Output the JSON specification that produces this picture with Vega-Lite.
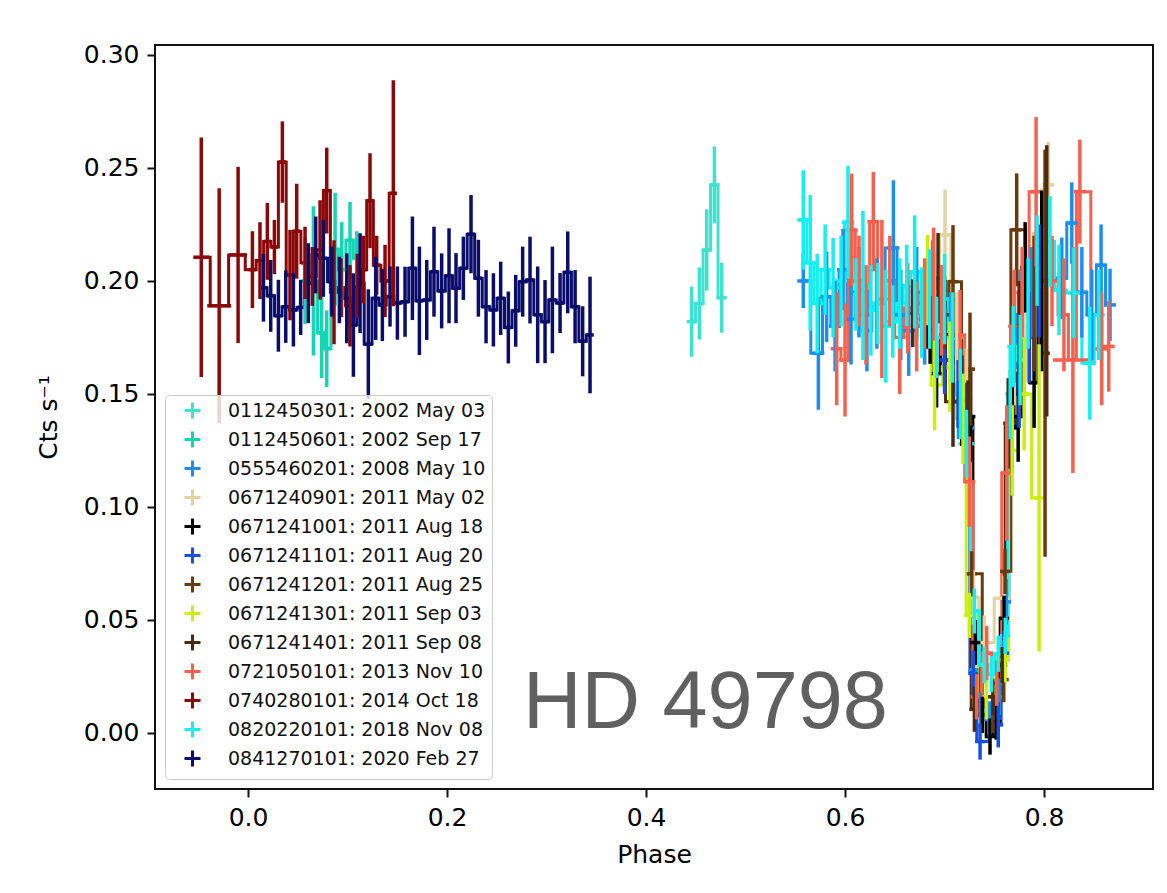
{
  "$schema": "https://vega.github.io/schema/vega-lite/v6.json",
  "width": 998,
  "height": 744,
  "autosize": {"type": "none"},
  "padding": {"left": 155, "top": 45, "right": 14, "bottom": 104},
  "background": "white",
  "config": {
    "view": {"stroke": "#111111", "strokeWidth": 2},
    "axis": {"grid": false, "domain": false, "labelFont": "DejaVu Sans", "titleFont": "DejaVu Sans", "labelFontSize": 25, "titleFontSize": 25, "titleFontWeight": "normal", "labelColor": "#000000", "titleColor": "#000000", "tickColor": "#111111", "tickWidth": 2, "tickSize": 8}
  },
  "data": {"values": [
    {"s": "0112450301: 2002 May 03", "p": 0.4459, "pe": 0.005, "r": 0.182, "re": 0.0155},
    {"s": "0112450301: 2002 May 03", "p": 0.4536, "pe": 0.005, "r": 0.190, "re": 0.016},
    {"s": "0112450301: 2002 May 03", "p": 0.4610, "pe": 0.005, "r": 0.2137, "re": 0.018},
    {"s": "0112450301: 2002 May 03", "p": 0.4687, "pe": 0.005, "r": 0.2425, "re": 0.017},
    {"s": "0112450301: 2002 May 03", "p": 0.4760, "pe": 0.005, "r": 0.1926, "re": 0.0155},
    {"s": "0112450601: 2002 Sep 17", "p": 0.0573, "pe": 0.004, "r": 0.200, "re": 0.019},
    {"s": "0112450601: 2002 Sep 17", "p": 0.0657, "pe": 0.004, "r": 0.200, "re": 0.033},
    {"s": "0112450601: 2002 Sep 17", "p": 0.0740, "pe": 0.004, "r": 0.177, "re": 0.020},
    {"s": "0112450601: 2002 Sep 17", "p": 0.0791, "pe": 0.004, "r": 0.170, "re": 0.017},
    {"s": "0112450601: 2002 Sep 17", "p": 0.0875, "pe": 0.004, "r": 0.214, "re": 0.025},
    {"s": "0112450601: 2002 Sep 17", "p": 0.0942, "pe": 0.004, "r": 0.205, "re": 0.021},
    {"s": "0112450601: 2002 Sep 17", "p": 0.1025, "pe": 0.004, "r": 0.218, "re": 0.017},
    {"s": "0112450601: 2002 Sep 17", "p": 0.1092, "pe": 0.004, "r": 0.210, "re": 0.012},
    {"s": "0555460201: 2008 May 10", "p": 0.558, "pe": 0.006, "r": 0.200, "re": 0.012},
    {"s": "0555460201: 2008 May 10", "p": 0.5732, "pe": 0.006, "r": 0.168, "re": 0.025},
    {"s": "0555460201: 2008 May 10", "p": 0.5815, "pe": 0.006, "r": 0.193, "re": 0.020},
    {"s": "0555460201: 2008 May 10", "p": 0.590, "pe": 0.006, "r": 0.180, "re": 0.020},
    {"s": "0555460201: 2008 May 10", "p": 0.598, "pe": 0.006, "r": 0.205, "re": 0.018},
    {"s": "0555460201: 2008 May 10", "p": 0.606, "pe": 0.006, "r": 0.183, "re": 0.020},
    {"s": "0555460201: 2008 May 10", "p": 0.614, "pe": 0.006, "r": 0.195, "re": 0.020},
    {"s": "0555460201: 2008 May 10", "p": 0.622, "pe": 0.006, "r": 0.178, "re": 0.018},
    {"s": "0555460201: 2008 May 10", "p": 0.632, "pe": 0.006, "r": 0.190, "re": 0.020},
    {"s": "0555460201: 2008 May 10", "p": 0.6486, "pe": 0.006, "r": 0.2146, "re": 0.030},
    {"s": "0555460201: 2008 May 10", "p": 0.656, "pe": 0.006, "r": 0.185, "re": 0.020},
    {"s": "0555460201: 2008 May 10", "p": 0.664, "pe": 0.006, "r": 0.178, "re": 0.020},
    {"s": "0555460201: 2008 May 10", "p": 0.672, "pe": 0.006, "r": 0.195, "re": 0.020},
    {"s": "0555460201: 2008 May 10", "p": 0.680, "pe": 0.006, "r": 0.183, "re": 0.020},
    {"s": "0555460201: 2008 May 10", "p": 0.688, "pe": 0.006, "r": 0.200, "re": 0.018},
    {"s": "0555460201: 2008 May 10", "p": 0.697, "pe": 0.006, "r": 0.187, "re": 0.020},
    {"s": "0555460201: 2008 May 10", "p": 0.706, "pe": 0.006, "r": 0.175, "re": 0.020},
    {"s": "0555460201: 2008 May 10", "p": 0.714, "pe": 0.006, "r": 0.150, "re": 0.020},
    {"s": "0555460201: 2008 May 10", "p": 0.724, "pe": 0.006, "r": 0.135, "re": 0.015},
    {"s": "0555460201: 2008 May 10", "p": 0.729, "pe": 0.005, "r": 0.028, "re": 0.008},
    {"s": "0555460201: 2008 May 10", "p": 0.736, "pe": 0.005, "r": 0.010, "re": 0.008},
    {"s": "0555460201: 2008 May 10", "p": 0.745, "pe": 0.005, "r": 0.006, "re": 0.008},
    {"s": "0555460201: 2008 May 10", "p": 0.755, "pe": 0.005, "r": 0.016, "re": 0.008},
    {"s": "0555460201: 2008 May 10", "p": 0.762, "pe": 0.005, "r": 0.058, "re": 0.010},
    {"s": "0555460201: 2008 May 10", "p": 0.768, "pe": 0.006, "r": 0.150, "re": 0.020},
    {"s": "0555460201: 2008 May 10", "p": 0.776, "pe": 0.006, "r": 0.185, "re": 0.020},
    {"s": "0555460201: 2008 May 10", "p": 0.787, "pe": 0.006, "r": 0.195, "re": 0.020},
    {"s": "0555460201: 2008 May 10", "p": 0.797, "pe": 0.006, "r": 0.200, "re": 0.020},
    {"s": "0555460201: 2008 May 10", "p": 0.8178, "pe": 0.006, "r": 0.2012, "re": 0.018},
    {"s": "0555460201: 2008 May 10", "p": 0.8279, "pe": 0.006, "r": 0.2256, "re": 0.018},
    {"s": "0555460201: 2008 May 10", "p": 0.838, "pe": 0.006, "r": 0.195, "re": 0.020},
    {"s": "0555460201: 2008 May 10", "p": 0.848, "pe": 0.006, "r": 0.185, "re": 0.020},
    {"s": "0555460201: 2008 May 10", "p": 0.8573, "pe": 0.006, "r": 0.207, "re": 0.018},
    {"s": "0555460201: 2008 May 10", "p": 0.8663, "pe": 0.006, "r": 0.1894, "re": 0.016},
    {"s": "0671240901: 2011 May 02", "p": 0.690, "pe": 0.006, "r": 0.195, "re": 0.018},
    {"s": "0671240901: 2011 May 02", "p": 0.7005, "pe": 0.006, "r": 0.2204, "re": 0.020},
    {"s": "0671240901: 2011 May 02", "p": 0.712, "pe": 0.006, "r": 0.175, "re": 0.020},
    {"s": "0671240901: 2011 May 02", "p": 0.722, "pe": 0.006, "r": 0.150, "re": 0.020},
    {"s": "0671240901: 2011 May 02", "p": 0.729, "pe": 0.005, "r": 0.060, "re": 0.012},
    {"s": "0671240901: 2011 May 02", "p": 0.740, "pe": 0.006, "r": 0.040, "re": 0.012},
    {"s": "0671240901: 2011 May 02", "p": 0.7598, "pe": 0.006, "r": 0.0596, "re": 0.010},
    {"s": "0671240901: 2011 May 02", "p": 0.770, "pe": 0.006, "r": 0.160, "re": 0.015},
    {"s": "0671240901: 2011 May 02", "p": 0.781, "pe": 0.006, "r": 0.175, "re": 0.020},
    {"s": "0671240901: 2011 May 02", "p": 0.7977, "pe": 0.006, "r": 0.221, "re": 0.020},
    {"s": "0671240901: 2011 May 02", "p": 0.8043, "pe": 0.006, "r": 0.2425, "re": 0.019},
    {"s": "0671241001: 2011 Aug 18", "p": 0.683, "pe": 0.005, "r": 0.185, "re": 0.015},
    {"s": "0671241001: 2011 Aug 18", "p": 0.6855, "pe": 0.005, "r": 0.1783, "re": 0.015},
    {"s": "0671241001: 2011 Aug 18", "p": 0.692, "pe": 0.005, "r": 0.159, "re": 0.015},
    {"s": "0671241001: 2011 Aug 18", "p": 0.700, "pe": 0.005, "r": 0.1762, "re": 0.015},
    {"s": "0671241001: 2011 Aug 18", "p": 0.7173, "pe": 0.005, "r": 0.147, "re": 0.020},
    {"s": "0671241001: 2011 Aug 18", "p": 0.726, "pe": 0.005, "r": 0.140, "re": 0.020},
    {"s": "0671241001: 2011 Aug 18", "p": 0.731, "pe": 0.005, "r": 0.040, "re": 0.010},
    {"s": "0671241001: 2011 Aug 18", "p": 0.738, "pe": 0.005, "r": 0.008, "re": 0.008},
    {"s": "0671241001: 2011 Aug 18", "p": 0.7457, "pe": 0.005, "r": -0.0016, "re": 0.008},
    {"s": "0671241001: 2011 Aug 18", "p": 0.752, "pe": 0.005, "r": 0.005, "re": 0.008},
    {"s": "0671241001: 2011 Aug 18", "p": 0.7598, "pe": 0.005, "r": 0.0507, "re": 0.010},
    {"s": "0671241001: 2011 Aug 18", "p": 0.768, "pe": 0.005, "r": 0.135, "re": 0.020},
    {"s": "0671241001: 2011 Aug 18", "p": 0.774, "pe": 0.005, "r": 0.140, "re": 0.020},
    {"s": "0671241001: 2011 Aug 18", "p": 0.781, "pe": 0.005, "r": 0.206, "re": 0.020},
    {"s": "0671241001: 2011 Aug 18", "p": 0.790, "pe": 0.005, "r": 0.155, "re": 0.020},
    {"s": "0671241001: 2011 Aug 18", "p": 0.7977, "pe": 0.005, "r": 0.200, "re": 0.040},
    {"s": "0671241101: 2011 Aug 20", "p": 0.700, "pe": 0.005, "r": 0.165, "re": 0.015},
    {"s": "0671241101: 2011 Aug 20", "p": 0.7136, "pe": 0.005, "r": 0.150, "re": 0.015},
    {"s": "0671241101: 2011 Aug 20", "p": 0.722, "pe": 0.005, "r": 0.140, "re": 0.015},
    {"s": "0671241101: 2011 Aug 20", "p": 0.729, "pe": 0.005, "r": 0.0264, "re": 0.010},
    {"s": "0671241101: 2011 Aug 20", "p": 0.7357, "pe": 0.005, "r": -0.0038, "re": 0.008},
    {"s": "0671241101: 2011 Aug 20", "p": 0.754, "pe": 0.005, "r": 0.0036, "re": 0.010},
    {"s": "0671241101: 2011 Aug 20", "p": 0.7598, "pe": 0.005, "r": 0.0353, "re": 0.010},
    {"s": "0671241101: 2011 Aug 20", "p": 0.765, "pe": 0.005, "r": 0.137, "re": 0.015},
    {"s": "0671241101: 2011 Aug 20", "p": 0.775, "pe": 0.005, "r": 0.150, "re": 0.015},
    {"s": "0671241101: 2011 Aug 20", "p": 0.785, "pe": 0.005, "r": 0.175, "re": 0.020},
    {"s": "0671241101: 2011 Aug 20", "p": 0.795, "pe": 0.005, "r": 0.200, "re": 0.025},
    {"s": "0671241201: 2011 Aug 25", "p": 0.700, "pe": 0.005, "r": 0.185, "re": 0.015},
    {"s": "0671241201: 2011 Aug 25", "p": 0.7085, "pe": 0.005, "r": 0.1997, "re": 0.025},
    {"s": "0671241201: 2011 Aug 25", "p": 0.7256, "pe": 0.005, "r": 0.161, "re": 0.025},
    {"s": "0671241201: 2011 Aug 25", "p": 0.7273, "pe": 0.005, "r": 0.0704, "re": 0.010},
    {"s": "0671241201: 2011 Aug 25", "p": 0.7485, "pe": 0.005, "r": 0.008, "re": 0.008},
    {"s": "0671241201: 2011 Aug 25", "p": 0.7595, "pe": 0.005, "r": 0.0236, "re": 0.010},
    {"s": "0671241201: 2011 Aug 25", "p": 0.7608, "pe": 0.005, "r": 0.0715, "re": 0.010},
    {"s": "0671241201: 2011 Aug 25", "p": 0.7725, "pe": 0.005, "r": 0.2226, "re": 0.025},
    {"s": "0671241201: 2011 Aug 25", "p": 0.790, "pe": 0.005, "r": 0.190, "re": 0.030},
    {"s": "0671241201: 2011 Aug 25", "p": 0.801, "pe": 0.005, "r": 0.168, "re": 0.090},
    {"s": "0671241301: 2011 Sep 03", "p": 0.683, "pe": 0.005, "r": 0.2004, "re": 0.020},
    {"s": "0671241301: 2011 Sep 03", "p": 0.690, "pe": 0.005, "r": 0.154, "re": 0.020},
    {"s": "0671241301: 2011 Sep 03", "p": 0.7055, "pe": 0.005, "r": 0.162, "re": 0.020},
    {"s": "0671241301: 2011 Sep 03", "p": 0.7186, "pe": 0.005, "r": 0.139, "re": 0.020},
    {"s": "0671241301: 2011 Sep 03", "p": 0.7249, "pe": 0.005, "r": 0.052, "re": 0.010},
    {"s": "0671241301: 2011 Sep 03", "p": 0.742, "pe": 0.005, "r": 0.016, "re": 0.010},
    {"s": "0671241301: 2011 Sep 03", "p": 0.7608, "pe": 0.005, "r": 0.0324, "re": 0.010},
    {"s": "0671241301: 2011 Sep 03", "p": 0.768, "pe": 0.005, "r": 0.125, "re": 0.020},
    {"s": "0671241301: 2011 Sep 03", "p": 0.780, "pe": 0.005, "r": 0.150, "re": 0.025},
    {"s": "0671241301: 2011 Sep 03", "p": 0.795, "pe": 0.005, "r": 0.104, "re": 0.068},
    {"s": "0671241401: 2011 Sep 08", "p": 0.668, "pe": 0.005, "r": 0.1857, "re": 0.015},
    {"s": "0671241401: 2011 Sep 08", "p": 0.6935, "pe": 0.005, "r": 0.2012, "re": 0.020},
    {"s": "0671241401: 2011 Sep 08", "p": 0.7085, "pe": 0.005, "r": 0.1466, "re": 0.020},
    {"s": "0671241401: 2011 Sep 08", "p": 0.7236, "pe": 0.005, "r": 0.136, "re": 0.020},
    {"s": "0671241401: 2011 Sep 08", "p": 0.730, "pe": 0.005, "r": 0.0105, "re": 0.010},
    {"s": "0671241401: 2011 Sep 08", "p": 0.7485, "pe": 0.005, "r": 0.016, "re": 0.008},
    {"s": "0671241401: 2011 Sep 08", "p": 0.758, "pe": 0.005, "r": 0.030, "re": 0.008},
    {"s": "0671241401: 2011 Sep 08", "p": 0.764, "pe": 0.005, "r": 0.137, "re": 0.020},
    {"s": "0671241401: 2011 Sep 08", "p": 0.775, "pe": 0.005, "r": 0.180, "re": 0.020},
    {"s": "0671241401: 2011 Sep 08", "p": 0.8027, "pe": 0.005, "r": 0.200, "re": 0.060},
    {"s": "0721050101: 2013 Nov 10", "p": 0.5916, "pe": 0.006, "r": 0.170, "re": 0.025},
    {"s": "0721050101: 2013 Nov 10", "p": 0.600, "pe": 0.006, "r": 0.165, "re": 0.025},
    {"s": "0721050101: 2013 Nov 10", "p": 0.6067, "pe": 0.006, "r": 0.2225, "re": 0.025},
    {"s": "0721050101: 2013 Nov 10", "p": 0.614, "pe": 0.006, "r": 0.200, "re": 0.020},
    {"s": "0721050101: 2013 Nov 10", "p": 0.621, "pe": 0.006, "r": 0.185, "re": 0.022},
    {"s": "0721050101: 2013 Nov 10", "p": 0.6284, "pe": 0.006, "r": 0.2262, "re": 0.022},
    {"s": "0721050101: 2013 Nov 10", "p": 0.637, "pe": 0.006, "r": 0.192, "re": 0.035},
    {"s": "0721050101: 2013 Nov 10", "p": 0.645, "pe": 0.006, "r": 0.200, "re": 0.020},
    {"s": "0721050101: 2013 Nov 10", "p": 0.655, "pe": 0.006, "r": 0.175, "re": 0.025},
    {"s": "0721050101: 2013 Nov 10", "p": 0.663, "pe": 0.006, "r": 0.188, "re": 0.020},
    {"s": "0721050101: 2013 Nov 10", "p": 0.672, "pe": 0.006, "r": 0.180, "re": 0.020},
    {"s": "0721050101: 2013 Nov 10", "p": 0.680, "pe": 0.006, "r": 0.190, "re": 0.020},
    {"s": "0721050101: 2013 Nov 10", "p": 0.689, "pe": 0.006, "r": 0.1986, "re": 0.025},
    {"s": "0721050101: 2013 Nov 10", "p": 0.697, "pe": 0.006, "r": 0.187, "re": 0.020},
    {"s": "0721050101: 2013 Nov 10", "p": 0.7156, "pe": 0.006, "r": 0.176, "re": 0.020},
    {"s": "0721050101: 2013 Nov 10", "p": 0.7249, "pe": 0.006, "r": 0.1112, "re": 0.020},
    {"s": "0721050101: 2013 Nov 10", "p": 0.7323, "pe": 0.006, "r": 0.016, "re": 0.010},
    {"s": "0721050101: 2013 Nov 10", "p": 0.7424, "pe": 0.006, "r": 0.0353, "re": 0.012},
    {"s": "0721050101: 2013 Nov 10", "p": 0.7525, "pe": 0.005, "r": 0.022, "re": 0.010},
    {"s": "0721050101: 2013 Nov 10", "p": 0.7625, "pe": 0.006, "r": 0.115, "re": 0.030},
    {"s": "0721050101: 2013 Nov 10", "p": 0.770, "pe": 0.006, "r": 0.180, "re": 0.025},
    {"s": "0721050101: 2013 Nov 10", "p": 0.778, "pe": 0.006, "r": 0.195, "re": 0.020},
    {"s": "0721050101: 2013 Nov 10", "p": 0.792, "pe": 0.006, "r": 0.2395, "re": 0.033},
    {"s": "0721050101: 2013 Nov 10", "p": 0.808, "pe": 0.006, "r": 0.200, "re": 0.020},
    {"s": "0721050101: 2013 Nov 10", "p": 0.820, "pe": 0.006, "r": 0.185, "re": 0.025},
    {"s": "0721050101: 2013 Nov 10", "p": 0.829, "pe": 0.020, "r": 0.165, "re": 0.050},
    {"s": "0721050101: 2013 Nov 10", "p": 0.836, "pe": 0.006, "r": 0.2395, "re": 0.023},
    {"s": "0721050101: 2013 Nov 10", "p": 0.858, "pe": 0.006, "r": 0.170, "re": 0.025},
    {"s": "0721050101: 2013 Nov 10", "p": 0.865, "pe": 0.006, "r": 0.171, "re": 0.020},
    {"s": "0740280101: 2014 Oct 18", "p": -0.047, "pe": 0.008, "r": 0.2105, "re": 0.053},
    {"s": "0740280101: 2014 Oct 18", "p": -0.029, "pe": 0.012, "r": 0.189, "re": 0.052},
    {"s": "0740280101: 2014 Oct 18", "p": -0.010, "pe": 0.009, "r": 0.2115, "re": 0.039},
    {"s": "0740280101: 2014 Oct 18", "p": 0.0044, "pe": 0.0037, "r": 0.205, "re": 0.017},
    {"s": "0740280101: 2014 Oct 18", "p": 0.012, "pe": 0.0037, "r": 0.209, "re": 0.017},
    {"s": "0740280101: 2014 Oct 18", "p": 0.0194, "pe": 0.0037, "r": 0.2175, "re": 0.017},
    {"s": "0740280101: 2014 Oct 18", "p": 0.0265, "pe": 0.0037, "r": 0.215, "re": 0.012},
    {"s": "0740280101: 2014 Oct 18", "p": 0.0345, "pe": 0.0037, "r": 0.2526, "re": 0.018},
    {"s": "0740280101: 2014 Oct 18", "p": 0.0422, "pe": 0.0037, "r": 0.2026, "re": 0.020},
    {"s": "0740280101: 2014 Oct 18", "p": 0.0489, "pe": 0.0037, "r": 0.222, "re": 0.021},
    {"s": "0740280101: 2014 Oct 18", "p": 0.0573, "pe": 0.0037, "r": 0.208, "re": 0.016},
    {"s": "0740280101: 2014 Oct 18", "p": 0.0646, "pe": 0.0037, "r": 0.202, "re": 0.013},
    {"s": "0740280101: 2014 Oct 18", "p": 0.0724, "pe": 0.0037, "r": 0.2137, "re": 0.022},
    {"s": "0740280101: 2014 Oct 18", "p": 0.0791, "pe": 0.0037, "r": 0.240, "re": 0.019},
    {"s": "0740280101: 2014 Oct 18", "p": 0.0864, "pe": 0.0037, "r": 0.195, "re": 0.023},
    {"s": "0740280101: 2014 Oct 18", "p": 0.0935, "pe": 0.0037, "r": 0.197, "re": 0.013},
    {"s": "0740280101: 2014 Oct 18", "p": 0.1025, "pe": 0.0037, "r": 0.189, "re": 0.018},
    {"s": "0740280101: 2014 Oct 18", "p": 0.1099, "pe": 0.0037, "r": 0.198, "re": 0.014},
    {"s": "0740280101: 2014 Oct 18", "p": 0.1159, "pe": 0.0037, "r": 0.205, "re": 0.015},
    {"s": "0740280101: 2014 Oct 18", "p": 0.1226, "pe": 0.0037, "r": 0.2355, "re": 0.021},
    {"s": "0740280101: 2014 Oct 18", "p": 0.1293, "pe": 0.0037, "r": 0.207, "re": 0.013},
    {"s": "0740280101: 2014 Oct 18", "p": 0.1377, "pe": 0.0037, "r": 0.200, "re": 0.016},
    {"s": "0740280101: 2014 Oct 18", "p": 0.146, "pe": 0.0037, "r": 0.2388, "re": 0.050},
    {"s": "0820220101: 2018 Nov 08", "p": 0.558, "pe": 0.006, "r": 0.227, "re": 0.022},
    {"s": "0820220101: 2018 Nov 08", "p": 0.565, "pe": 0.006, "r": 0.208, "re": 0.030},
    {"s": "0820220101: 2018 Nov 08", "p": 0.572, "pe": 0.006, "r": 0.190, "re": 0.022},
    {"s": "0820220101: 2018 Nov 08", "p": 0.580, "pe": 0.006, "r": 0.205, "re": 0.020},
    {"s": "0820220101: 2018 Nov 08", "p": 0.588, "pe": 0.006, "r": 0.197, "re": 0.022},
    {"s": "0820220101: 2018 Nov 08", "p": 0.596, "pe": 0.006, "r": 0.200, "re": 0.020},
    {"s": "0820220101: 2018 Nov 08", "p": 0.603, "pe": 0.006, "r": 0.226, "re": 0.025},
    {"s": "0820220101: 2018 Nov 08", "p": 0.611, "pe": 0.006, "r": 0.194, "re": 0.016},
    {"s": "0820220101: 2018 Nov 08", "p": 0.618, "pe": 0.006, "r": 0.198, "re": 0.033},
    {"s": "0820220101: 2018 Nov 08", "p": 0.626, "pe": 0.006, "r": 0.187, "re": 0.020},
    {"s": "0820220101: 2018 Nov 08", "p": 0.633, "pe": 0.006, "r": 0.190, "re": 0.018},
    {"s": "0820220101: 2018 Nov 08", "p": 0.641, "pe": 0.006, "r": 0.180, "re": 0.025},
    {"s": "0820220101: 2018 Nov 08", "p": 0.648, "pe": 0.006, "r": 0.182, "re": 0.016},
    {"s": "0820220101: 2018 Nov 08", "p": 0.655, "pe": 0.006, "r": 0.190, "re": 0.020},
    {"s": "0820220101: 2018 Nov 08", "p": 0.662, "pe": 0.006, "r": 0.198, "re": 0.018},
    {"s": "0820220101: 2018 Nov 08", "p": 0.670, "pe": 0.006, "r": 0.204, "re": 0.025},
    {"s": "0820220101: 2018 Nov 08", "p": 0.677, "pe": 0.006, "r": 0.186, "re": 0.020},
    {"s": "0820220101: 2018 Nov 08", "p": 0.685, "pe": 0.006, "r": 0.192, "re": 0.022},
    {"s": "0820220101: 2018 Nov 08", "p": 0.692, "pe": 0.006, "r": 0.175, "re": 0.018},
    {"s": "0820220101: 2018 Nov 08", "p": 0.700, "pe": 0.012, "r": 0.192, "re": 0.020},
    {"s": "0820220101: 2018 Nov 08", "p": 0.708, "pe": 0.006, "r": 0.175, "re": 0.020},
    {"s": "0820220101: 2018 Nov 08", "p": 0.716, "pe": 0.006, "r": 0.150, "re": 0.020},
    {"s": "0820220101: 2018 Nov 08", "p": 0.722, "pe": 0.008, "r": 0.128, "re": 0.015},
    {"s": "0820220101: 2018 Nov 08", "p": 0.730, "pe": 0.005, "r": 0.054, "re": 0.010},
    {"s": "0820220101: 2018 Nov 08", "p": 0.740, "pe": 0.005, "r": 0.030, "re": 0.008},
    {"s": "0820220101: 2018 Nov 08", "p": 0.747, "pe": 0.005, "r": 0.026, "re": 0.008},
    {"s": "0820220101: 2018 Nov 08", "p": 0.754, "pe": 0.005, "r": 0.035, "re": 0.008},
    {"s": "0820220101: 2018 Nov 08", "p": 0.761, "pe": 0.005, "r": 0.043, "re": 0.008},
    {"s": "0820220101: 2018 Nov 08", "p": 0.766, "pe": 0.005, "r": 0.150, "re": 0.020},
    {"s": "0820220101: 2018 Nov 08", "p": 0.769, "pe": 0.006, "r": 0.171, "re": 0.018},
    {"s": "0820220101: 2018 Nov 08", "p": 0.776, "pe": 0.006, "r": 0.165, "re": 0.020},
    {"s": "0820220101: 2018 Nov 08", "p": 0.784, "pe": 0.006, "r": 0.190, "re": 0.020},
    {"s": "0820220101: 2018 Nov 08", "p": 0.793, "pe": 0.006, "r": 0.209, "re": 0.020},
    {"s": "0820220101: 2018 Nov 08", "p": 0.806, "pe": 0.006, "r": 0.2175, "re": 0.020},
    {"s": "0820220101: 2018 Nov 08", "p": 0.815, "pe": 0.006, "r": 0.196, "re": 0.020},
    {"s": "0820220101: 2018 Nov 08", "p": 0.830, "pe": 0.006, "r": 0.1947, "re": 0.020},
    {"s": "0820220101: 2018 Nov 08", "p": 0.846, "pe": 0.006, "r": 0.1636, "re": 0.025},
    {"s": "0820220101: 2018 Nov 08", "p": 0.855, "pe": 0.006, "r": 0.185, "re": 0.020},
    {"s": "0841270101: 2020 Feb 27", "p": 0.0155, "pe": 0.00375, "r": 0.197, "re": 0.015},
    {"s": "0841270101: 2020 Feb 27", "p": 0.0228, "pe": 0.00375, "r": 0.1934, "re": 0.0159},
    {"s": "0841270101: 2020 Feb 27", "p": 0.0305, "pe": 0.00375, "r": 0.1846, "re": 0.0159},
    {"s": "0841270101: 2020 Feb 27", "p": 0.0379, "pe": 0.00375, "r": 0.1886, "re": 0.016},
    {"s": "0841270101: 2020 Feb 27", "p": 0.0456, "pe": 0.00375, "r": 0.1872, "re": 0.0162},
    {"s": "0841270101: 2020 Feb 27", "p": 0.0529, "pe": 0.00375, "r": 0.1883, "re": 0.0122},
    {"s": "0841270101: 2020 Feb 27", "p": 0.0606, "pe": 0.00375, "r": 0.199, "re": 0.0177},
    {"s": "0841270101: 2020 Feb 27", "p": 0.068, "pe": 0.00375, "r": 0.2115, "re": 0.017},
    {"s": "0841270101: 2020 Feb 27", "p": 0.0757, "pe": 0.00375, "r": 0.21, "re": 0.017},
    {"s": "0841270101: 2020 Feb 27", "p": 0.0841, "pe": 0.00375, "r": 0.1997, "re": 0.0155},
    {"s": "0841270101: 2020 Feb 27", "p": 0.0918, "pe": 0.00375, "r": 0.196, "re": 0.0147},
    {"s": "0841270101: 2020 Feb 27", "p": 0.0992, "pe": 0.00375, "r": 0.1923, "re": 0.0199},
    {"s": "0841270101: 2020 Feb 27", "p": 0.1059, "pe": 0.00375, "r": 0.1805, "re": 0.0229},
    {"s": "0841270101: 2020 Feb 27", "p": 0.1126, "pe": 0.00375, "r": 0.199, "re": 0.0221},
    {"s": "0841270101: 2020 Feb 27", "p": 0.1209, "pe": 0.00375, "r": 0.172, "re": 0.0243},
    {"s": "0841270101: 2020 Feb 27", "p": 0.1283, "pe": 0.00375, "r": 0.1923, "re": 0.0184},
    {"s": "0841270101: 2020 Feb 27", "p": 0.135, "pe": 0.00375, "r": 0.1894, "re": 0.016},
    {"s": "0841270101: 2020 Feb 27", "p": 0.1427, "pe": 0.00375, "r": 0.1931, "re": 0.0133},
    {"s": "0841270101: 2020 Feb 27", "p": 0.1501, "pe": 0.00375, "r": 0.1902, "re": 0.0162},
    {"s": "0841270101: 2020 Feb 27", "p": 0.1578, "pe": 0.00375, "r": 0.1908, "re": 0.0155},
    {"s": "0841270101: 2020 Feb 27", "p": 0.1652, "pe": 0.00375, "r": 0.2056, "re": 0.0229},
    {"s": "0841270101: 2020 Feb 27", "p": 0.1722, "pe": 0.00375, "r": 0.1912, "re": 0.024},
    {"s": "0841270101: 2020 Feb 27", "p": 0.1796, "pe": 0.00375, "r": 0.1916, "re": 0.0177},
    {"s": "0841270101: 2020 Feb 27", "p": 0.1869, "pe": 0.00375, "r": 0.2041, "re": 0.0199},
    {"s": "0841270101: 2020 Feb 27", "p": 0.1946, "pe": 0.00375, "r": 0.1956, "re": 0.0166},
    {"s": "0841270101: 2020 Feb 27", "p": 0.202, "pe": 0.00375, "r": 0.2023, "re": 0.021},
    {"s": "0841270101: 2020 Feb 27", "p": 0.209, "pe": 0.00375, "r": 0.1968, "re": 0.0155},
    {"s": "0841270101: 2020 Feb 27", "p": 0.2164, "pe": 0.00375, "r": 0.2056, "re": 0.014},
    {"s": "0841270101: 2020 Feb 27", "p": 0.2241, "pe": 0.00375, "r": 0.2207, "re": 0.0173},
    {"s": "0841270101: 2020 Feb 27", "p": 0.2315, "pe": 0.00375, "r": 0.2012, "re": 0.017},
    {"s": "0841270101: 2020 Feb 27", "p": 0.2392, "pe": 0.00375, "r": 0.1886, "re": 0.0162},
    {"s": "0841270101: 2020 Feb 27", "p": 0.2466, "pe": 0.00375, "r": 0.1872, "re": 0.0162},
    {"s": "0841270101: 2020 Feb 27", "p": 0.2539, "pe": 0.00375, "r": 0.1923, "re": 0.0162},
    {"s": "0841270101: 2020 Feb 27", "p": 0.2616, "pe": 0.00375, "r": 0.1794, "re": 0.0159},
    {"s": "0841270101: 2020 Feb 27", "p": 0.269, "pe": 0.00375, "r": 0.1868, "re": 0.0159},
    {"s": "0841270101: 2020 Feb 27", "p": 0.276, "pe": 0.00375, "r": 0.1997, "re": 0.0155},
    {"s": "0841270101: 2020 Feb 27", "p": 0.2834, "pe": 0.00375, "r": 0.2004, "re": 0.0192},
    {"s": "0841270101: 2020 Feb 27", "p": 0.2911, "pe": 0.00375, "r": 0.185, "re": 0.0214},
    {"s": "0841270101: 2020 Feb 27", "p": 0.2985, "pe": 0.00375, "r": 0.182, "re": 0.0184},
    {"s": "0841270101: 2020 Feb 27", "p": 0.3059, "pe": 0.00375, "r": 0.1916, "re": 0.0236},
    {"s": "0841270101: 2020 Feb 27", "p": 0.3136, "pe": 0.00375, "r": 0.1902, "re": 0.0133},
    {"s": "0841270101: 2020 Feb 27", "p": 0.3213, "pe": 0.00375, "r": 0.2038, "re": 0.0181},
    {"s": "0841270101: 2020 Feb 27", "p": 0.3287, "pe": 0.00375, "r": 0.1886, "re": 0.0162},
    {"s": "0841270101: 2020 Feb 27", "p": 0.3363, "pe": 0.00375, "r": 0.1733, "re": 0.0155},
    {"s": "0841270101: 2020 Feb 27", "p": 0.3437, "pe": 0.00375, "r": 0.1761, "re": 0.0258}
  ]},
  "layer": [
    {
      "mark": {"type": "line", "interpolate": "step", "strokeWidth": 3},
      "encoding": {
        "x": {"field": "p", "type": "quantitative", "title": "Phase", "scale": {"domain": [-0.0935, 0.9095], "nice": false, "zero": false}, "axis": {"title": "Phase", "values": [0, 0.2, 0.4, 0.6, 0.8], "format": ".1f", "labelPadding": 8, "titlePadding": 12}},
        "y": {"field": "r", "type": "quantitative", "title": "Cts s⁻¹", "scale": {"domain": [-0.0248, 0.3044], "nice": false, "zero": false}, "axis": {"title": "Cts s⁻¹", "values": [0, 0.05, 0.1, 0.15, 0.2, 0.25, 0.3], "format": ".2f", "labelPadding": 8, "titlePadding": 22}},
        "color": {"field": "s", "type": "nominal",
          "scale": {"domain": ["0112450301: 2002 May 03", "0112450601: 2002 Sep 17", "0555460201: 2008 May 10", "0671240901: 2011 May 02", "0671241001: 2011 Aug 18", "0671241101: 2011 Aug 20", "0671241201: 2011 Aug 25", "0671241301: 2011 Sep 03", "0671241401: 2011 Sep 08", "0721050101: 2013 Nov 10", "0740280101: 2014 Oct 18", "0820220101: 2018 Nov 08", "0841270101: 2020 Feb 27"],
            "range": ["#3ce3cf", "#14d6b2", "#1b8ff0", "#e1d2a0", "#000000", "#174fe0", "#6a3a0d", "#c8f00c", "#4a2b0f", "#f8604d", "#8c0808", "#14f0f0", "#0a0d6b"]},
          "legend": {"title": null, "orient": "bottom-left", "offset": 10, "labelFont": "DejaVu Sans", "labelFontSize": 19, "labelColor": "#111111", "labelLimit": 400, "symbolType": "M-1,0H1M0,-1V1", "symbolSize": 256, "symbolStrokeWidth": 3, "padding": 6, "rowPadding": 0, "labelOffset": 26, "symbolOffset": 12, "strokeColor": "#cccccc", "fillColor": "rgba(255,255,255,0.82)", "cornerRadius": 4}}
      }
    },
    {
      "mark": {"type": "errorbar", "thickness": 3.5},
      "encoding": {
        "x": {"field": "p", "type": "quantitative", "title": "Phase"},
        "xError": {"field": "pe"},
        "y": {"field": "r", "type": "quantitative", "title": "Cts s⁻¹"},
        "color": {"field": "s", "type": "nominal"}
      }
    },
    {
      "mark": {"type": "errorbar", "thickness": 3.5},
      "encoding": {
        "y": {"field": "r", "type": "quantitative", "title": "Cts s⁻¹"},
        "yError": {"field": "re"},
        "x": {"field": "p", "type": "quantitative", "title": "Phase"},
        "color": {"field": "s", "type": "nominal"}
      }
    },
    {
      "data": {"values": [{"name": "HD 49798"}]},
      "mark": {"type": "text", "font": "Liberation Sans", "fontSize": 81, "color": "#606060", "align": "left", "baseline": "alphabetic"},
      "encoding": {
        "x": {"datum": 0.2764, "type": "quantitative"},
        "y": {"datum": 0.0022, "type": "quantitative"},
        "text": {"field": "name"}
      }
    }
  ]
}
